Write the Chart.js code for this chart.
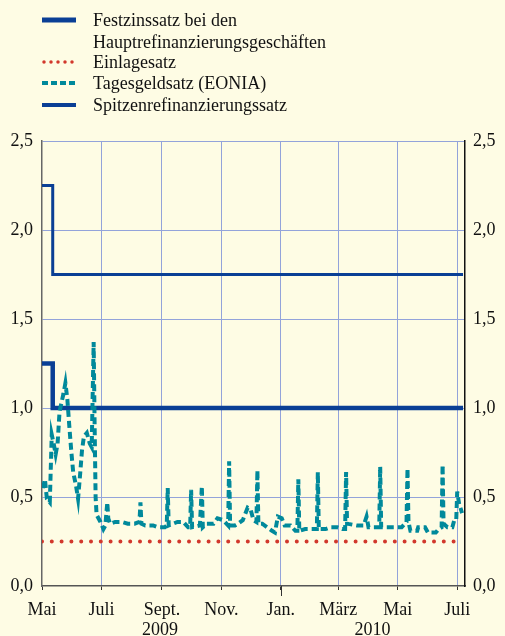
<!DOCTYPE html>
<html>
<head>
<meta charset="utf-8">
<script src="https://cdn.jsdelivr.net/npm/chart.js@4"></script>
<style>
  html, body { margin: 0; padding: 0; background: #fefce4; }
  #wrap { width: 505px; height: 636px; position: relative; }
</style>
</head>
<body>
<div id="wrap"><canvas id="rateChart"></canvas></div>
<script>
// days counted from 1 May 2009
const monthTicks = [0, 61, 123, 184, 245, 304, 365, 426];
const monthLabels = ["Mai", "Juli", "Sept.", "Nov.", "Jan.", "März", "Mai", "Juli"];
const yearLabels = ["2009", "2010"];

const rateDays = [0, 11, 11, 432];
const mroRates = [1.25, 1.25, 1.0, 1.0];
const mlfRates = [2.25, 2.25, 1.75, 1.75];

const depositDays = [0, 432];
const depositRates = [0.25, 0.25];

const eoniaDays = [1, 3, 5, 8, 10, 12, 14, 16, 18, 22, 24, 26, 28, 30, 32, 35, 37, 39, 41, 43,
  46, 49, 51, 53, 54, 55, 56, 60, 63, 65, 67, 68, 70, 75, 82, 88, 95, 100, 101, 102,
  106, 114, 119, 126, 128, 129, 130, 139, 145, 150, 152, 153, 154, 162, 164, 165, 169, 176, 180, 186,
  191, 192, 193, 198, 201, 206, 211, 214, 217, 220, 221, 222, 226, 231, 236, 239, 242, 246, 249, 255,
  260, 262, 263, 264, 270, 277, 282, 283, 284, 287, 291, 296, 303, 308, 311, 312, 313, 323, 330, 333,
  335, 340, 346, 347, 348, 352, 359, 362, 369, 374, 375, 376, 378, 385, 386, 393, 396, 404, 407, 410,
  411, 412, 416, 421, 423, 425, 426, 428, 431];
const eoniaRates = [0.55, 0.6, 0.49, 0.47, 0.85, 0.8, 0.74, 0.8, 0.98, 1.08, 1.14, 1.05, 0.9, 0.76, 0.64, 0.56, 0.49, 0.62, 0.76, 0.84,
  0.86, 0.8, 0.78, 1.37, 0.9, 0.5, 0.4, 0.36, 0.32, 0.34, 0.47, 0.38, 0.35, 0.36, 0.36, 0.35, 0.35, 0.36, 0.47, 0.35,
  0.34, 0.34, 0.33, 0.33, 0.34, 0.55, 0.34, 0.36, 0.36, 0.33, 0.33, 0.54, 0.33, 0.34, 0.56, 0.33, 0.35, 0.35, 0.38, 0.37,
  0.34, 0.70, 0.34, 0.34, 0.35, 0.37, 0.44, 0.43, 0.37, 0.36, 0.65, 0.35, 0.35, 0.33, 0.31, 0.30, 0.39, 0.38, 0.34, 0.34,
  0.31, 0.31, 0.60, 0.31, 0.32, 0.32, 0.32, 0.64, 0.32, 0.32, 0.32, 0.33, 0.33, 0.32, 0.32, 0.64, 0.35, 0.34, 0.34, 0.39,
  0.33, 0.33, 0.33, 0.67, 0.33, 0.33, 0.33, 0.33, 0.33, 0.36, 0.66, 0.36, 0.31, 0.31, 0.33, 0.33, 0.30, 0.30, 0.32, 0.33,
  0.68, 0.35, 0.33, 0.33, 0.37, 0.37, 0.53, 0.46, 0.41];

const blue = "#0a3f95";
const teal = "#00899b";
const red = "#d2382c";
const gridColor = "#93a3da";
const font = "Liberation Serif";
const textColor = "#111";

const pts = (xs, ys) => xs.map((x, i) => ({ x: x, y: ys[i] }));

// legend + year labels + longer January tick
const extras = {
  id: "extras",
  afterDraw(chart) {
    const ctx = chart.ctx;
    const xs = chart.scales.x;
    const bottom = chart.chartArea.bottom;
    ctx.save();
    // longer tick at year change
    ctx.strokeStyle = "#333";
    ctx.lineWidth = 1;
    const jx = Math.round(xs.getPixelForValue(monthTicks[4])) + 0.5;
    ctx.beginPath();
    ctx.moveTo(jx, bottom);
    ctx.lineTo(jx, bottom + 10);
    ctx.stroke();

    ctx.fillStyle = textColor;
    ctx.font = "18px '" + font + "'";
    ctx.textAlign = "center";
    ctx.textBaseline = "middle";
    ctx.fillText(yearLabels[0], xs.getPixelForValue(121), 630);
    ctx.fillText(yearLabels[1], xs.getPixelForValue(339), 630);

    // legend
    const rows = [
      { y: 20, text: ["Festzinssatz bei den", "Hauptrefinanzierungsgeschäften"], style: "mro" },
      { y: 62, text: ["Einlagesatz"], style: "dep" },
      { y: 83, text: ["Tagesgeldsatz (EONIA)"], style: "eonia" },
      { y: 105, text: ["Spitzenrefinanzierungssatz"], style: "mlf" }
    ];
    ctx.textAlign = "left";
    rows.forEach(r => {
      ctx.beginPath();
      ctx.setLineDash([]);
      ctx.lineCap = "butt";
      if (r.style === "mro") { ctx.strokeStyle = blue; ctx.lineWidth = 5; }
      if (r.style === "mlf") { ctx.strokeStyle = blue; ctx.lineWidth = 4; }
      if (r.style === "eonia") { ctx.strokeStyle = teal; ctx.lineWidth = 4; ctx.setLineDash([6, 3]); }
      if (r.style === "dep") { ctx.strokeStyle = red; ctx.lineWidth = 3.5; ctx.lineCap = "round"; ctx.setLineDash([0, 7]); }
      const x0 = r.style === "dep" ? 44 : 42;
      ctx.moveTo(x0, r.y);
      ctx.lineTo(76, r.y);
      ctx.stroke();
      r.text.forEach((t, i) => ctx.fillText(t, 93, r.y + 1 + i * 22));
    });
    ctx.restore();
  }
};

new Chart(document.getElementById("rateChart"), {
  type: "line",
  data: {
    datasets: [
      {
        label: "Tagesgeldsatz (EONIA)",
        data: pts(eoniaDays, eoniaRates),
        borderColor: teal,
        borderWidth: 4,
        borderDash: [7, 4],
        pointRadius: 0,
        tension: 0
      },
      {
        label: "Einlagesatz",
        data: pts(depositDays, depositRates),
        borderColor: red,
        borderWidth: 4,
        borderDash: [0, 9.8],
        borderCapStyle: "round",
        pointRadius: 0
      },
      {
        label: "Festzinssatz bei den Hauptrefinanzierungsgeschäften",
        data: pts(rateDays, mroRates),
        borderColor: blue,
        borderWidth: 4.5,
        pointRadius: 0
      },
      {
        label: "Spitzenrefinanzierungssatz",
        data: pts(rateDays, mlfRates),
        borderColor: blue,
        borderWidth: 3,
        pointRadius: 0
      }
    ]
  },
  options: {
    responsive: true,
    maintainAspectRatio: false,
    animation: false,
    layout: { padding: { top: 141, left: 0, right: 0, bottom: 0 } },
    plugins: { legend: { display: false }, tooltip: { enabled: false } },
    scales: {
      x: {
        type: "linear",
        min: 0,
        max: 434,
        afterBuildTicks: s => { s.ticks = monthTicks.map(v => ({ value: v })); },
        afterFit: s => { s.height = 50; },
        ticks: {
          callback: (v, i) => monthLabels[i],
          font: { family: font, size: 18 },
          color: textColor,
          padding: 9,
          maxRotation: 0,
          autoSkip: false
        },
        grid: {
          color: c => (c.index === 0 ? "rgba(0,0,0,0)" : gridColor),
          tickColor: "#333",
          tickLength: 4,
          lineWidth: 1
        },
        border: { color: "#555", width: 1.5 }
      },
      y: {
        position: "left",
        min: 0,
        max: 2.5,
        afterBuildTicks: s => { s.ticks = [0, 0.5, 1, 1.5, 2, 2.5].map(v => ({ value: v })); },
        afterFit: s => { s.width = 42; },
        ticks: {
          callback: v => v.toFixed(1).replace(".", ","),
          font: { family: font, size: 18 },
          color: textColor,
          padding: 9
        },
        grid: {
          color: c => (c.index === 0 ? "rgba(0,0,0,0)" : gridColor),
          drawTicks: false
        },
        border: { color: "#666", width: 1.5 }
      },
      y2: {
        position: "right",
        min: 0,
        max: 2.5,
        afterBuildTicks: s => { s.ticks = [0, 0.5, 1, 1.5, 2, 2.5].map(v => ({ value: v })); },
        afterFit: s => { s.width = 40; },
        ticks: {
          callback: v => v.toFixed(1).replace(".", ","),
          font: { family: font, size: 18 },
          color: textColor,
          padding: 8
        },
        grid: { display: false, drawTicks: false },
        border: { color: "#111", width: 1.5 }
      }
    }
  },
  plugins: [extras]
});
</script>
</body>
</html>
